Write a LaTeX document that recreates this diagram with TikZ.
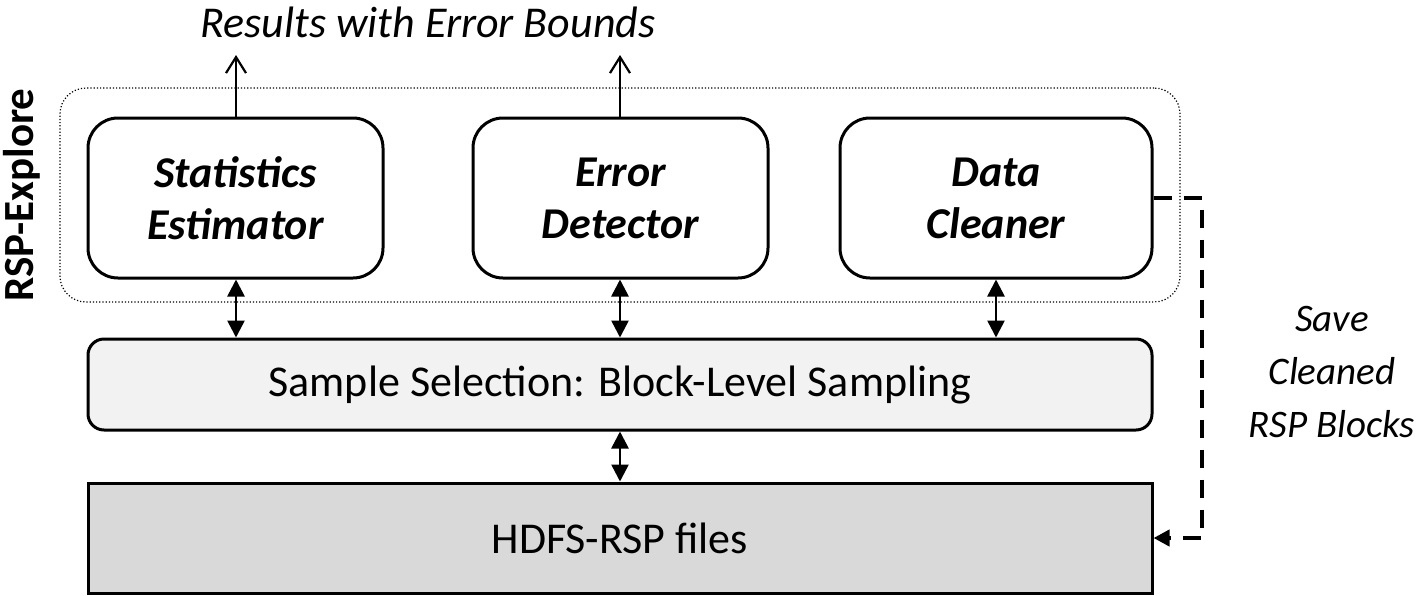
\documentclass[tikz,border=0pt]{standalone}
\usepackage{fontspec}
\setmainfont{Carlito}
\usetikzlibrary{arrows.meta}
\begin{document}
\begin{tikzpicture}[x=0.5pt,y=-0.5pt,
  txt/.style={font=\fontsize{22}{26}\selectfont, align=center, inner sep=0},
  modbox/.style={txt, draw, line width=1.5pt, rounded corners=15pt, minimum width=147.5pt, minimum height=80pt, font=\bfseries\itshape\fontsize{22}{26}\selectfont},
  dbl/.style={line width=1.3pt, {Triangle[width=8.5pt,length=8.5pt]}-{Triangle[width=8.5pt,length=8.5pt]}},
  up/.style={line width=1.3pt, -{Straight Barb[width=10pt,length=8pt,line width=1.1pt]}},
  dsh/.style={line width=2pt, dash pattern=on 9pt off 6pt, -{Triangle[width=8pt,length=8pt]}}
]
\useasboundingbox (0,0) rectangle (1419,595);
\node[draw, densely dotted, line width=0.6pt, rounded corners=13pt, minimum width=560pt, minimum height=107pt] (explore) at (620,195) {};
\node[modbox] (stat) at (235.5,198) {Statistics\\Estimator};
\node[modbox] (err) at (620.5,198) {Error\\Detector};
\node[modbox, minimum width=156pt] (clean) at (996,198) {Data\\Cleaner};
\node[txt, draw, line width=1.5pt, rounded corners=8pt, fill=black!5, minimum width=532pt, minimum height=45.5pt] (sample) at (620,384.5) {Sample Selection: Block-Level Sampling};
\node[txt, draw, line width=1.5pt, fill=black!15, minimum width=532pt, minimum height=55pt] (hdfs) at (620,538) {HDFS-RSP files};
\node[txt, font=\itshape\fontsize{22}{26}\selectfont] (title) at (428,22) {Results with Error Bounds};
\node[txt, font=\bfseries\fontsize{21.5}{26}\selectfont, rotate=90] (rsp) at (22,195) {RSP-Explore};
\node[txt, font=\itshape\fontsize{19.5}{26.5}\selectfont] (save) at (1332,372) {Save\\Cleaned\\RSP Blocks};
\coordinate (o1) at (236,55);
\coordinate (o2) at (620,55);
\coordinate (d1) at (1202,198);
\coordinate (d2) at (1202,538);
\draw[up] (stat.north -| o1) -- (o1);
\draw[up] (err.north -| o2) -- (o2);
\draw[dbl] (stat.south -| o1) -- (sample.north -| o1);
\draw[dbl] (err.south -| o2) -- (sample.north -| o2);
\draw[dbl] (clean.south) -- (sample.north -| clean.south);
\draw[dbl] (sample.south -| o2) -- (hdfs.north -| o2);
\draw[dsh] (clean.east) -- (d1) -- (d2) -- (hdfs.east);
\end{tikzpicture}
\end{document}
